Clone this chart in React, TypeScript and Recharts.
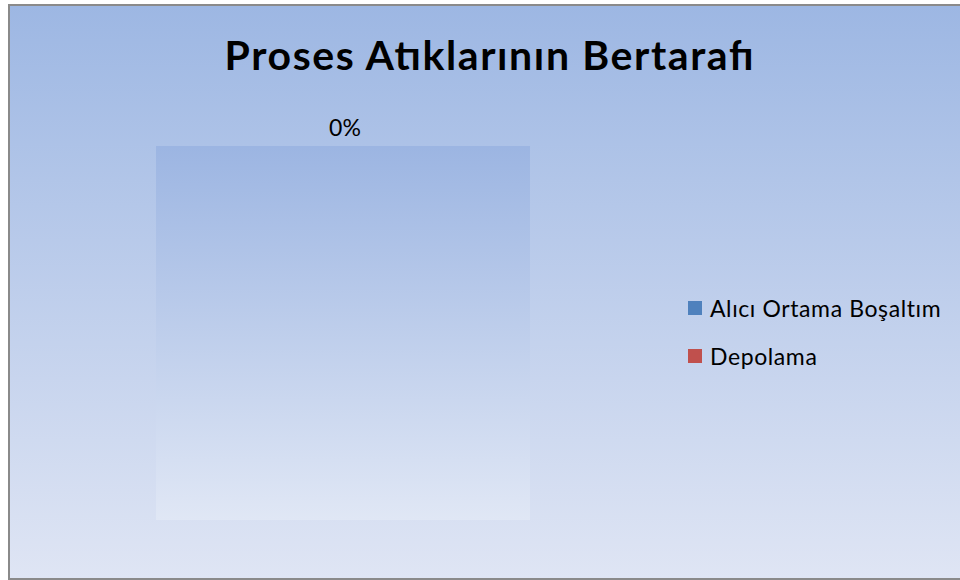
import { Customized, Legend, Pie, PieChart } from "recharts";

const CATEGORIES = ["Alıcı Ortama Boşaltım", "Depolama"];
const VALUES = [0, 0];
const COLORS = ["#4F81BD", "#C0504D"];
const TITLE = "Proses Atıklarının Bertarafı";

const W = 950;
const H = 572;
const FONT = "Lato, 'Open Sans', sans-serif";

const data = CATEGORIES.map((name, i) => ({ name, value: VALUES[i] }));
const total = VALUES.reduce((a, b) => a + b, 0);

const CX = 333;
const CY = 327;
const R = 187;

function PlotArea() {
  const pct = total ? Math.round((VALUES[0] / total) * 100) : 0;
  return (
    <g>
      <defs>
        <linearGradient id="plotFill" x1="0" y1="0" x2="0" y2="1">
          <stop offset="0%" stopColor="#9CB5E2" />
          <stop offset="100%" stopColor="#E0E7F5" />
        </linearGradient>
      </defs>
      <rect x={CX - R} y={CY - R} width={R * 2} height={R * 2} fill="url(#plotFill)" />
      <text
        x={CX + 2}
        y={CY - R - 10}
        textAnchor="middle"
        fontFamily={FONT}
        fontSize={23}
        fill="#000"
      >
        {pct}%
      </text>
      <text
        x={479}
        y={64}
        textAnchor="middle"
        fontFamily={FONT}
        fontWeight={700}
        fontSize={41}
        textLength={529}
        lengthAdjust="spacing"
        fill="#000"
      >
        {TITLE}
      </text>
    </g>
  );
}

function LegendBox() {
  return (
    <div style={{ fontFamily: FONT, fontSize: 23, letterSpacing: 0.6, color: "#000" }}>
      {CATEGORIES.map((c, i) => (
        <div
          key={c}
          style={{ display: "flex", alignItems: "center", height: 48 }}
        >
          <span
            style={{
              width: 14,
              height: 14,
              background: COLORS[i],
              marginRight: 8,
              display: "inline-block",
            }}
          />
          <span>{c}</span>
        </div>
      ))}
    </div>
  );
}

export default function App() {
  return (
    <>
      <style>{"html, body { overflow: hidden; }"}</style>
      <div
        style={{
          position: "fixed",
          left: 8,
          top: 4,
          width: 952,
          height: 576,
          boxSizing: "border-box",
          borderTop: "2px solid #8a8a8a",
          borderLeft: "2px solid #8a8a8a",
          borderBottom: "2px solid #8a8a8a",
          background: "linear-gradient(to bottom, #9DB7E3 0%, #DFE5F4 100%)",
          overflow: "hidden",
        }}
      >
        <PieChart width={W} height={H}>
          <Customized component={PlotArea} />
          <Pie
            data={data}
            dataKey="value"
            nameKey="name"
            cx={CX}
            cy={CY}
            outerRadius={R}
            startAngle={90}
            endAngle={-270}
            stroke="none"
            isAnimationActive={false}
          />
          <Legend
            layout="vertical"
            content={<LegendBox />}
            wrapperStyle={{ position: "absolute", left: 678, top: 278, width: 270 }}
          />
        </PieChart>
      </div>
    </>
  );
}
